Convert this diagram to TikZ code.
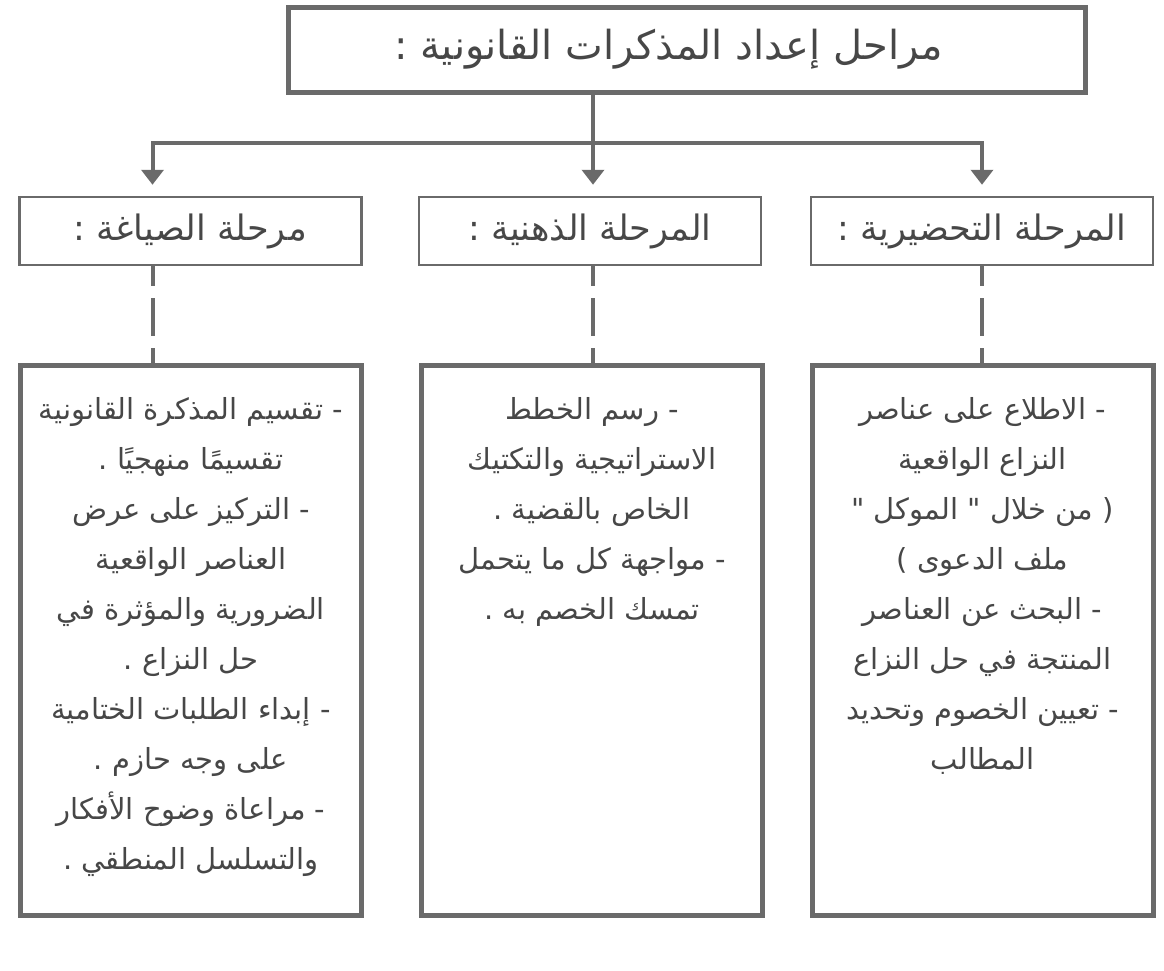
\documentclass[tikz,border=0pt]{standalone}
\usepackage{fontspec}
\usepackage{xcolor}
\usepackage{tikz}
\usetikzlibrary{arrows.meta,positioning}
\newfontfamily\arabicfont[Script=Arabic]{DejaVu Sans}
\TeXXeTstate=1
\definecolor{boxgray}{HTML}{6A6A6A}
\definecolor{textgray}{HTML}{474747}
\newcommand\rl[1]{\beginR #1\endR}

\begin{document}
\begin{tikzpicture}[x=1pt,y=-1pt,
		every node/.style={text=textgray, font=\arabicfont},
		titlebox/.style={draw=boxgray, line width=5pt, minimum width=797pt, minimum height=85pt, font=\arabicfont\fontsize{40}{46}\selectfont},
		headbox/.style={draw=boxgray, line width=2.5pt, minimum width=342pt, minimum height=68pt, font=\arabicfont\fontsize{35}{40}\selectfont},
		bodybox/.style={draw=boxgray, line width=5pt, minimum width=341pt, minimum height=550pt},
		bodytext/.style={anchor=north, align=center, font=\arabicfont\fontsize{29}{50}\selectfont},
		feed/.style={draw=boxgray, line width=4pt, -{Triangle[width=22pt,length=15pt]}, shorten >=11pt},
		link/.style={draw=boxgray, line width=4pt, dash pattern=on 20pt off 12pt on 38pt off 12pt on 18pt}]
		\useasboundingbox (0,0) rectangle (1164,970);
		
		\node[titlebox] (title) at (686.5,49.5) {\rl{مراحل إعداد المذكرات القانونية :}\hspace*{36pt}};
		
		\node[headbox] (sagha) at (190.5,231) {\rl{مرحلة الصياغة :}};
		\node[headbox] (dhihni) at (590,231) {\rl{المرحلة الذهنية :}};
		\node[headbox] (tahdir) at (982,231) {\rl{المرحلة التحضيرية :}};
		
		\node[bodybox] (saghabody) at (191,640) {};
		\node[bodybox] (dhihnibody) at (592,640) {};
		\node[bodybox] (tahdirbody) at (982.5,640) {};
		
		% arrows from the title
		\coordinate (sagha-in) at ([xshift=-38pt]sagha.north);
		\coordinate (sagha-out) at ([xshift=-38pt]sagha.south);
		\draw[boxgray, line width=4pt] ([xshift=3pt]title.south -| dhihni.north) -- ++(0,48) coordinate (split);
		\draw[feed] (split) -- (split |- dhihni.north);
		\draw[feed] (split) -| (sagha-in);
		\draw[feed] (split) -| (tahdir.north);
		
		% dashed links
		\draw[link] (sagha-out) -- (sagha-out |- saghabody.north);
		\draw[link] ([xshift=3pt]dhihni.south) -- ([xshift=3pt]dhihni.south |- dhihnibody.north);
		\draw[link] (tahdir.south) -- (tahdir.south |- tahdirbody.north);
		
		\node[bodytext] (saghatext) at ([yshift=-31pt]saghabody.north) {
			\rl{- تقسيم المذكرة القانونية}\\
			\rl{تقسيمًا منهجيًا .}\\
			\rl{- التركيز على عرض}\\
			\rl{العناصر الواقعية}\\
			\rl{الضرورية والمؤثرة في}\\
			\rl{حل النزاع .}\\
			\rl{- إبداء الطلبات الختامية}\\
			\rl{على وجه حازم .}\\
			\rl{- مراعاة وضوح الأفكار}\\
			\rl{والتسلسل المنطقي .}};
		\node[bodytext] (dhihnitext) at ([yshift=-31pt]dhihnibody.north) {
			\rl{- رسم الخطط}\\
			\rl{الاستراتيجية والتكتيك}\\
			\rl{الخاص بالقضية .}\\
			\rl{- مواجهة كل ما يتحمل}\\
			\rl{تمسك الخصم به .}};
		\node[bodytext] (tahdirtext) at ([yshift=-31pt]tahdirbody.north) {
			\rl{- الاطلاع على عناصر}\\
			\rl{النزاع الواقعية}\\
			\rl{( من خلال " الموكل "}\\
			\rl{ملف الدعوى )}\\
			\rl{- البحث عن العناصر}\\
			\rl{المنتجة في حل النزاع}\\
			\rl{- تعيين الخصوم وتحديد}\\
			\rl{المطالب}};
	\end{tikzpicture}
\end{document}
